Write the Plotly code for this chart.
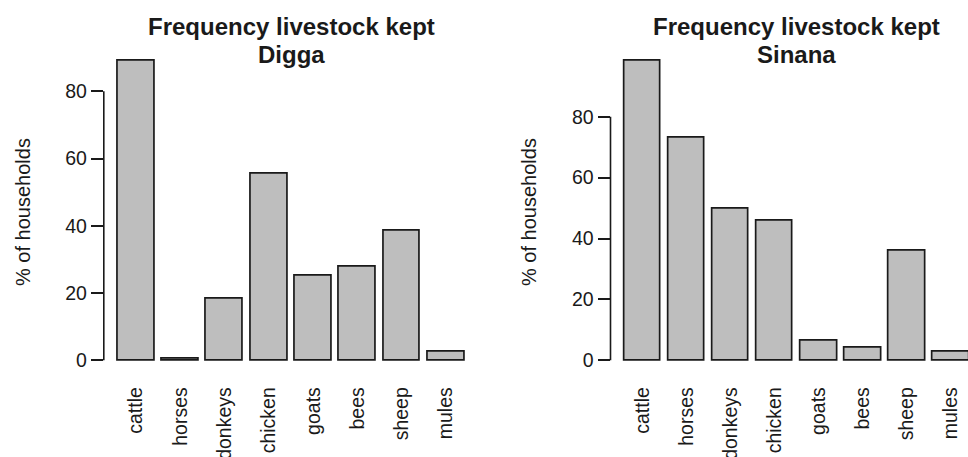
import plotly.graph_objects as go

# Livestock categories and % of households keeping each, per district
animals = ["cattle", "horses", "donkeys", "chicken", "goats", "bees", "sheep", "mules"]
digga_pct = [89.1, 0.6, 18.4, 55.5, 25.3, 27.7, 38.5, 2.5]
sinana_pct = [98.4, 73.2, 49.9, 45.7, 6.3, 4.1, 36.0, 2.7]
y_ticks = [0, 20, 40, 60, 80]

# barplot-style positions: width 1, gap 0.2
bar_pos = [0.7 + 1.2 * i for i in range(len(animals))]

W, H = 968, 457
FONT = "Liberation Sans, Arial, sans-serif"
TXT = "#1a1a1a"

fig = go.Figure()
for vals, xa, ya in [(digga_pct, "x", "y"), (sinana_pct, "x2", "y2")]:
    fig.add_trace(go.Bar(
        x=bar_pos, y=vals, width=1.0, xaxis=xa, yaxis=ya,
        marker=dict(color="#bebebe", line=dict(color="#1a1a1a", width=1.7)),
        showlegend=False, hoverinfo="skip",
    ))

plot_top, plot_bot = 48.7, 372.3
ydom = [1 - plot_bot / H, 1 - plot_top / H]


def yaxis_cfg(vmax, anchor):
    return dict(
        domain=ydom, range=[-0.04 * vmax, vmax * 1.04], anchor=anchor,
        tickvals=y_ticks, ticktext=[str(v) for v in y_ticks],
        ticks="outside", ticklen=12, tickwidth=1.6, tickcolor=TXT,
        showline=False, showgrid=False, zeroline=False, automargin=False,
        tickfont=dict(family=FONT, size=19.5, color=TXT),
        ticklabelstandoff=0,
    )


def xaxis_cfg(dom, rng, anchor):
    return dict(
        domain=dom, range=rng, anchor=anchor,
        tickvals=bar_pos, ticktext=animals,
        tickangle=-90, ticks="", showline=False, showgrid=False, zeroline=False,
        automargin=False,
        tickfont=dict(family=FONT, size=19.5, color=TXT),
        ticklabelstandoff=10,
    )


fig.update_layout(
    width=W, height=H, margin=dict(l=0, r=0, t=0, b=0),
    paper_bgcolor="white", plot_bgcolor="white",
    xaxis=xaxis_cfg([103.8 / W, 478.4 / W], [-0.176, 9.976], "y"),
    yaxis=yaxis_cfg(max(digga_pct), "x"),
    xaxis2=xaxis_cfg([610.5 / W, 1.0], [-0.176, 9.572], "y2"),
    yaxis2=yaxis_cfg(max(sinana_pct), "x2"),
    bargap=0,
)

# Axis lines spanning the tick range only
for xd, ya in [("x domain", "y"), ("x2 domain", "y2")]:
    fig.add_shape(type="line", xref=xd, yref=ya, x0=0, x1=0,
                  y0=y_ticks[0], y1=y_ticks[-1],
                  line=dict(color=TXT, width=1.6))

# Titles and y-axis labels
for cx, name, lab_x in [(291.0, "Digga", 23.0), (796.7, "Sinana", 529.0)]:
    fig.add_annotation(x=cx / W, y=1 - 26.5 / H, xref="paper", yref="paper",
                       text="<b>Frequency livestock kept</b>", showarrow=False,
                       font=dict(family=FONT, size=24, color=TXT),
                       xanchor="center", yanchor="middle")
    fig.add_annotation(x=cx / W, y=1 - 54.5 / H, xref="paper", yref="paper",
                       text=f"<b>{name}</b>", showarrow=False,
                       font=dict(family=FONT, size=24, color=TXT),
                       xanchor="center", yanchor="middle")
    fig.add_annotation(x=lab_x / W, y=1 - 212 / H, xref="paper", yref="paper",
                       text="% of households", showarrow=False, textangle=-90,
                       font=dict(family=FONT, size=20, color=TXT),
                       xanchor="center", yanchor="middle")

fig.write_html("out.html")
